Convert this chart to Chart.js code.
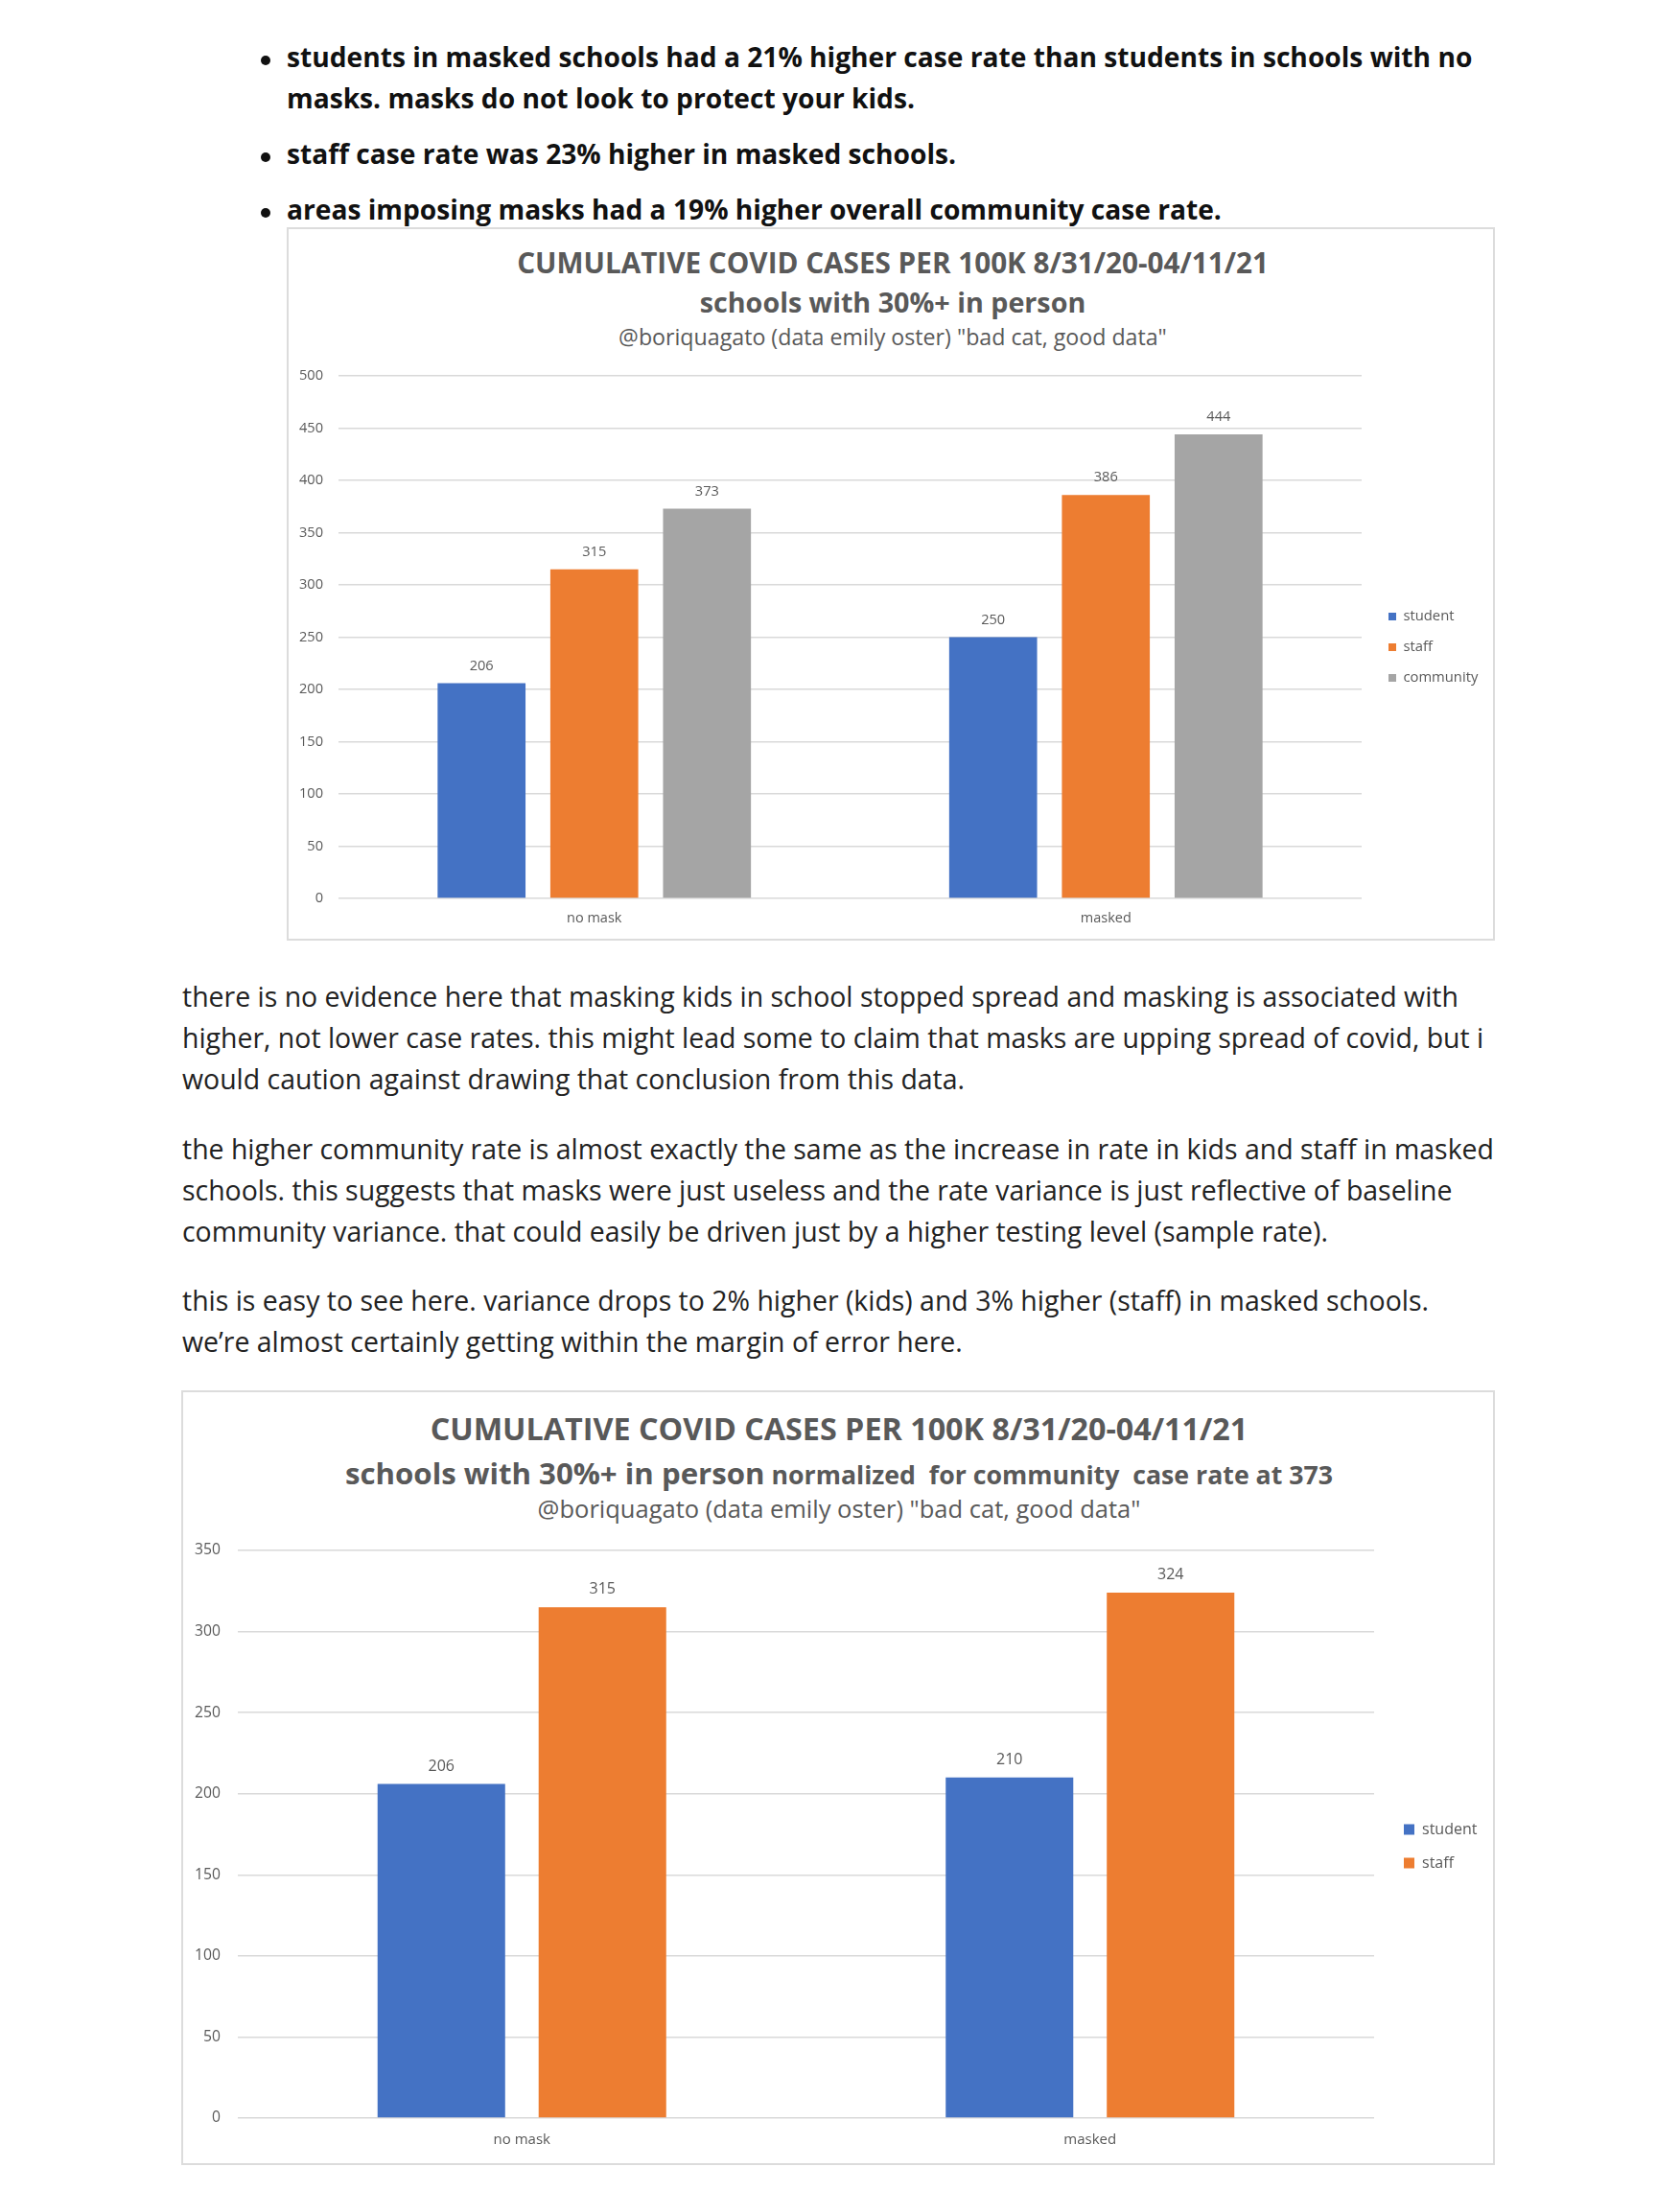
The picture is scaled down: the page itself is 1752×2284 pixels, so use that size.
<!DOCTYPE html>
<html>
<head>
<meta charset="utf-8">
<script src="https://cdn.jsdelivr.net/npm/chart.js@4.4.1/dist/chart.umd.min.js"></script>
<style>
  html, body { margin: 0; padding: 0; background: #fff; }
  body { width: 1752px; height: 2284px; position: relative; overflow: hidden; font-family: "Open Sans", sans-serif; }
  .bullets { position: absolute; left: 299px; top: 38px; margin: 0; padding: 0; list-style: none;
    font-weight: 700; font-size: 28.17px; line-height: 43px; color: #111; white-space: nowrap; }
  .bullets li { position: relative; margin-bottom: 15px; }
  .bullets li::before { content: ''; position: absolute; left: -27px; top: 20px; width: 10px; height: 10px;
    border-radius: 50%; background: #111; }
  .para { position: absolute; left: 190px; margin: 0; font-size: 28.45px; line-height: 43px; color: #222; white-space: nowrap; }
  .box { position: absolute; border: 2px solid #dcdcdc; box-sizing: border-box; }
  .ttl { position: absolute; text-align: center; color: #595959; line-height: 1; white-space: nowrap; }
  .plot { position: absolute; }
</style>
</head>
<body>

<ul class="bullets">
  <li>students in masked schools had a 21% higher case rate than students in schools with no<br>masks. masks do not look to protect your kids.</li>
  <li>staff case rate was 23% higher in masked schools.</li>
  <li>areas imposing masks had a 19% higher overall community case rate.</li>
</ul>

<div class="box" style="left:299px; top:237px; width:1260px; height:744px;"></div>
<div class="ttl" style="left:299px; width:1264px; top:259px; font-size:29.7px; font-weight:700;">CUMULATIVE COVID CASES PER 100K 8/31/20-04/11/21</div>
<div class="ttl" style="left:299px; width:1264px; top:301px; font-size:28.7px; font-weight:700;">schools with 30%+ in person</div>
<div class="ttl" style="left:299px; width:1264px; top:340px; font-size:23.2px;">@boriquagato (data emily oster) "bad cat, good data"</div>
<div class="plot" style="left:300px; top:362px; width:1256px; height:637px;"><canvas id="chart1"></canvas></div>

<p class="para" style="top:1018px;">there is no evidence here that masking kids in school stopped spread and masking is associated with<br>higher, not lower case rates. this might lead some to claim that masks are upping spread of covid, but i<br>would caution against drawing that conclusion from this data.</p>
<p class="para" style="top:1177px;">the higher community rate is almost exactly the same as the increase in rate in kids and staff in masked<br>schools. this suggests that masks were just useless and the rate variance is just reflective of baseline<br>community variance. that could easily be driven just by a higher testing level (sample rate).</p>
<p class="para" style="top:1335px;">this is easy to see here. variance drops to 2% higher (kids) and 3% higher (staff) in masked schools.<br>we’re almost certainly getting within the margin of error here.</p>

<div class="box" style="left:189px; top:1450px; width:1370px; height:808px;"></div>
<div class="ttl" style="left:189px; width:1372px; top:1473px; font-size:32.3px; font-weight:700;">CUMULATIVE COVID CASES PER 100K 8/31/20-04/11/21</div>
<div class="ttl" style="left:189px; width:1372px; top:1521px; font-size:31.2px; font-weight:700;">schools with 30%+ in person<span style="font-size:26.7px;"> normalized&nbsp; for community&nbsp; case rate at 373</span></div>
<div class="ttl" style="left:189px; width:1372px; top:1561px; font-size:25.5px;">@boriquagato (data emily oster) "bad cat, good data"</div>
<div class="plot" style="left:190px; top:1587px; width:1366px; height:687px;"><canvas id="chart2"></canvas></div>

<script>
// data
const categories = ['no mask', 'masked'];
const seriesNames = ['student', 'staff', 'community'];
const seriesColors = ['#4472C4', '#ED7D31', '#A5A5A5'];

const student1 = [206, 250];
const staff1 = [315, 386];
const community1 = [373, 444];
const yRange1 = [0, 500, 50];   // min, max, step

const student2 = [206, 210];
const staff2 = [315, 324];
const yRange2 = [0, 350, 50];

const FONT = '"Open Sans", sans-serif';
const GREY = '#595959';

// value labels above each bar
const barValueLabels = {
  id: 'barValueLabels',
  afterDatasetsDraw(chart, args, opts) {
    const ctx = chart.ctx;
    ctx.save();
    ctx.font = opts.size + 'px ' + FONT;
    ctx.fillStyle = GREY;
    ctx.textAlign = 'center';
    ctx.textBaseline = 'middle';
    chart.data.datasets.forEach((ds, i) => {
      chart.getDatasetMeta(i).data.forEach((bar, j) => {
        ctx.fillText(ds.data[j], bar.x, bar.y - opts.offset);
      });
    });
    ctx.restore();
  }
};

function textWidth(str, size) {
  const c = document.createElement('canvas').getContext('2d');
  c.font = size + 'px ' + FONT;
  return c.measureText(str).width;
}

function makeChart(id, values, yRange, s) {
  const datasets = values.map((v, i) => ({
    label: seriesNames[i],
    data: v,
    backgroundColor: seriesColors[i],
    borderWidth: 0,
    barPercentage: s.barPct,
    categoryPercentage: s.catPct
  }));

  // right legend width (chart.js adds 10px), so the plot ends where the excel plot ends
  const maxText = Math.max(...datasets.map(d => textWidth(d.label, s.legendSize)));
  const legendW = s.legendPad + s.box + s.legendSize / 2 + maxText + 10;
  const padRight = s.canvasW - s.plotRight - s.gap - legendW;

  return new Chart(document.getElementById(id), {
    type: 'bar',
    data: { labels: categories, datasets: datasets },
    options: {
      responsive: true,
      maintainAspectRatio: false,
      animation: false,
      layout: { padding: { top: 30, bottom: s.padBottom, left: 0, right: padRight } },
      scales: {
        x: {
          grid: { display: false, drawTicks: false },
          border: { display: false },
          ticks: { color: GREY, font: { family: FONT, size: s.xSize, lineHeight: 1 }, padding: s.xPad }
        },
        y: {
          min: yRange[0],
          max: yRange[1],
          grid: { color: '#d9d9d9', lineWidth: 1.5, drawTicks: false },
          border: { display: false },
          ticks: { stepSize: yRange[2], color: GREY, font: { family: FONT, size: s.ySize }, padding: s.yPad },
          afterFit: sc => { sc.width = s.yW; }
        },
        // empty spacer between plot and legend
        gap: {
          type: 'linear',
          position: 'right',
          grid: { display: false },
          border: { display: false },
          ticks: { display: false },
          afterFit: sc => { sc.width = s.gap; }
        }
      },
      plugins: {
        legend: {
          position: 'right',
          align: 'start',
          // blank title only pushes the items down to where excel put them
          title: { display: true, text: '', font: { size: 10, lineHeight: 1 }, padding: { top: s.legendTop - 10, bottom: 0 } },
          labels: {
            boxWidth: s.box,
            boxHeight: s.box,
            padding: s.legendPad,
            color: GREY,
            font: { family: FONT, size: s.legendSize }
          }
        },
        tooltip: { enabled: false },
        barValueLabels: { size: s.labelSize, offset: s.labelOffset }
      }
    },
    plugins: [barValueLabels]
  });
}

makeChart('chart1', [student1, staff1, community1], yRange1, {
  canvasW: 1256, plotRight: 1120, yW: 53, yPad: 16, ySize: 14.6,
  xPad: 13.55, xSize: 14.5, padBottom: 20.4,
  gap: 10.8, box: 8, legendPad: 17.2, legendSize: 14.8, legendTop: 226.4,
  barPct: 0.78, catPct: 0.661, labelSize: 14.6, labelOffset: 18
});

makeChart('chart2', [student2, staff2], yRange2, {
  canvasW: 1366, plotRight: 1243, yW: 58, yPad: 18, ySize: 15.7,
  xPad: 15, xSize: 15, padBottom: 20,
  gap: 12, box: 11, legendPad: 19, legendSize: 16, legendTop: 264,
  barPct: 0.792, catPct: 0.567, labelSize: 16, labelOffset: 18.5
});
</script>
</body>
</html>
